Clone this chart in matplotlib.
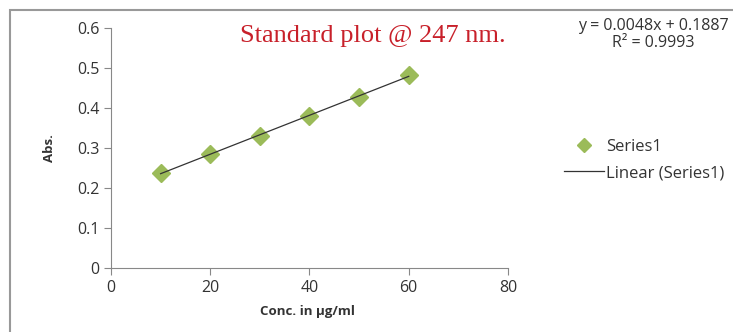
import numpy as np
import matplotlib.pyplot as plt
from matplotlib.patches import Rectangle

# Dados da curva padrão
conc = [10, 20, 30, 40, 50, 60]
absorb = [0.238, 0.284, 0.331, 0.381, 0.427, 0.483]
x_ticks = [0, 20, 40, 60, 80]
y_ticks = [0, 0.1, 0.2, 0.3, 0.4, 0.5, 0.6]
y_labels = ['0', '0.1', '0.2', '0.3', '0.4', '0.5', '0.6']

green = '#9BBB59'
gray = '#888888'
plt.rcParams['font.family'] = ['Open Sans', 'DejaVu Sans']

fig = plt.figure(figsize=(7.33, 3.32), dpi=100)
ax = fig.add_axes([0.1514, 0.193, 0.5416, 0.7227])

# Moldura cinza
fig.patches.append(Rectangle((10 / 733, -0.1), 2, 1 - 10 / 332 + 0.1, transform=fig.transFigure,
                             fill=False, edgecolor='#999999', lw=1.5))

# Linha de tendência
coef = np.polyfit(conc, absorb, 1)
xs = np.array([conc[0], conc[-1]])
ax.plot(xs, np.polyval(coef, xs), color='#333333', lw=0.9, label='Linear (Series1)', zorder=3)
ax.plot(conc, absorb, linestyle='none', marker='D', ms=9, color=green, label='Series1', zorder=2)

ax.set_xlim(0, 80)
ax.set_ylim(0, 0.6)
ax.set_xticks(x_ticks)
ax.set_yticks(y_ticks)
ax.set_yticklabels(y_labels)
for s in ['top', 'right']:
    ax.spines[s].set_visible(False)
for s in ['left', 'bottom']:
    ax.spines[s].set_color(gray)
ax.tick_params(colors=gray, labelcolor='#333333', labelsize=11.5, length=5, width=0.8)
ax.set_xlabel('Conc. in µg/ml', fontsize=9.5, fontweight='bold', color='#333333')
ax.set_ylabel('Abs.', fontsize=9.5, fontweight='bold', color='#333333')
ax.xaxis.set_label_coords(0.495, -0.155)
ax.yaxis.set_label_coords(-0.138, 0.5)

fig.text(373 / 733, 1 - 36 / 332, 'Standard plot @ 247 nm.', family='Liberation Serif',
         fontsize=19, color='#C8202A', ha='center', va='center')
fig.text(653 / 733, 1 - 18 / 332, 'y = 0.0048x + 0.1887\nR² = 0.9993', fontsize=11.5,
         color='#333333', ha='center', va='top', linespacing=1.05)

handles, labels = ax.get_legend_handles_labels()
leg = fig.legend(handles[::-1], labels[::-1], loc='center left', bbox_to_anchor=(549 / 733, 1 - 160 / 332),
                 frameon=False, fontsize=12, handlelength=2.4, handletextpad=0.1, labelspacing=0.6,
                 markerscale=0.75)
for t in leg.get_texts():
    t.set_color('#333333')

plt.savefig('out.png', dpi=100)
